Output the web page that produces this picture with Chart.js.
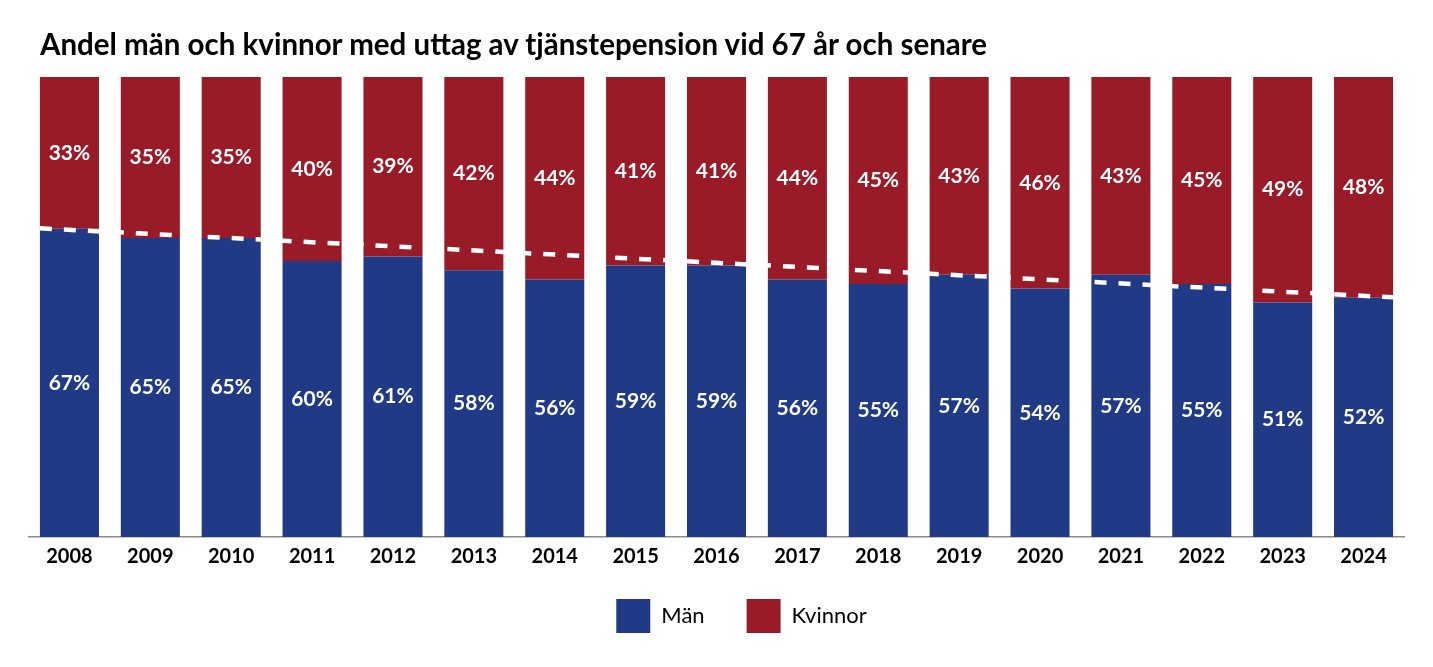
<!DOCTYPE html>
<html>
<head>
<meta charset="utf-8">
<script src="https://cdn.jsdelivr.net/npm/chart.js@4"></script>
<style>
  html, body { margin: 0; padding: 0; background: #fff; }
  #wrap { position: relative; width: 1433px; height: 667px; }
  #title {
    position: absolute; left: 40px; top: 29px; margin: 0;
    font: bold 29.5px/29px Lato, "Open Sans", sans-serif; color: #000;
    white-space: nowrap;
  }
</style>
</head>
<body>
<div id="wrap">
  <h1 id="title">Andel män och kvinnor med uttag av tjänstepension vid 67 år och senare</h1>
  <canvas id="chart"></canvas>
</div>
<script>
const years = ["2008", "2009", "2010", "2011", "2012", "2013", "2014", "2015", "2016",
    "2017", "2018", "2019", "2020", "2021", "2022", "2023", "2024"];
const man = [67, 65, 65, 60, 61, 58, 56, 59, 59, 56, 55, 57, 54, 57, 55, 51, 52];
const kvinnor = [33, 35, 35, 40, 39, 42, 44, 41, 41, 44, 45, 43, 46, 43, 45, 49, 48];
// dashed trend line, read at the outer edges of the first and last bar
const trendValues = [67.1, 52.1];
const trendPos = [-0.365, 16.365];

const BLUE = "#203a86";
const RED = "#991b28";
const FONT = "Lato, 'Open Sans', sans-serif";

// white percentage text centred in every segment
const segmentLabels = {
    id: "segmentLabels",
    afterLayout(chart) {
        // legend sits a little right of centre and closer to the axis in the original
        const lg = chart.legend;
        lg.left += 25;
        lg.right += 25;
        lg.top -= 20;
        lg.bottom -= 20;
    },
    afterDatasetsDraw(chart) {
        const ctx = chart.ctx;
        ctx.save();
        ctx.fillStyle = "#fff";
        ctx.font = "bold 21px " + FONT;
        ctx.textAlign = "center";
        ctx.textBaseline = "middle";
        [0, 1].forEach(function(di) {
            const meta = chart.getDatasetMeta(di);
            meta.data.forEach(function(bar, i) {
                const v = chart.data.datasets[di].data[i];
                ctx.fillText(v + "%", bar.x, (bar.y + bar.base) / 2);
            });
        });
        ctx.restore();
    }
};

new Chart(document.getElementById("chart").getContext("2d"), {
    type: "bar",
    data: {
        labels: years,
        datasets: [{
                label: "Män",
                data: man,
                backgroundColor: BLUE,
                barPercentage: 0.73,
                categoryPercentage: 1,
                grouped: false,
                order: 2,
            },
            {
                label: "Kvinnor",
                data: kvinnor,
                backgroundColor: RED,
                barPercentage: 0.73,
                categoryPercentage: 1,
                grouped: false,
                order: 2,
            },
            {
                type: "line",
                label: "trend",
                data: trendPos.map(function(x, i) {
                    return { x: x, y: trendValues[i] };
                }),
                xAxisID: "x2",
                yAxisID: "y2",
                borderColor: "#fff",
                borderWidth: 4.5,
                borderDash: [12, 12],
                pointRadius: 0,
                fill: false,
                order: 1,
            },
        ],
    },
    options: {
        responsive: true,
        maintainAspectRatio: false,
        animation: false,
        layout: {
            padding: { left: 29, right: 29, top: 77, bottom: 4 },
        },
        scales: {
            x: {
                stacked: true,
                grid: { display: false, drawTicks: false },
                border: { display: true, color: "#8a8a8a", width: 1.5 },
                ticks: {
                    color: "#000",
                    font: { family: FONT, size: 20, weight: "bold" },
                    padding: 8,
                },
            },
            y: {
                stacked: true,
                min: 0,
                max: 100,
                display: false,
            },
            x2: {
                type: "linear",
                min: -0.5,
                max: 16.5,
                offset: false,
                display: false,
            },
            y2: {
                min: 0,
                max: 100,
                display: false,
            },
        },
        plugins: {
            legend: {
                position: "bottom",
                labels: {
                    filter: function(item) {
                        return item.text !== "trend";
                    },
                    boxWidth: 34,
                    boxHeight: 34,
                    padding: 42,
                    color: "#000",
                    font: { family: FONT, size: 22 },
                },
            },
            tooltip: { enabled: false },
        },
    },
    plugins: [segmentLabels],
});
</script>
</body>
</html>
